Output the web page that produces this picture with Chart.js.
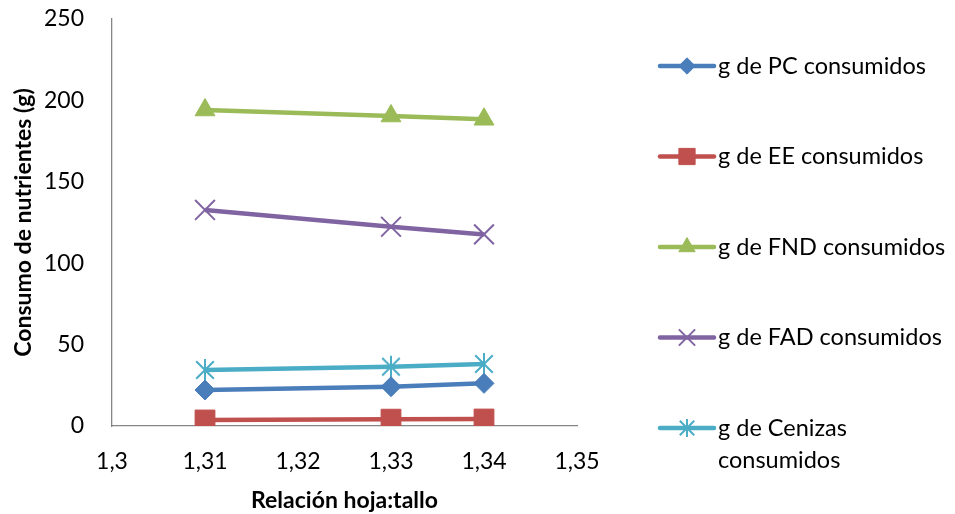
<!DOCTYPE html>
<html>
<head>
<meta charset="utf-8">
<script src="https://cdn.jsdelivr.net/npm/chart.js@4.4.1/dist/chart.umd.min.js"></script>
<style>
  html, body { margin: 0; padding: 0; background: #fff; }
  #wrap { width: 955px; height: 514px; }
</style>
</head>
<body>
<div id="wrap"><canvas id="chart" width="955" height="514"></canvas></div>
<script>
// relacion hoja:tallo
const ratios = [1.31, 1.33, 1.34];

const seriesNames = [
    'g de PC consumidos',
    'g de EE consumidos',
    'g de FND consumidos',
    'g de FAD consumidos',
    'g de Cenizas consumidos'
];
const pcData = [22.1, 24.1, 26.2];
const eeData = [3.7, 4.2, 4.3];
const fndData = [194.1, 190.4, 188.4];
const fadData = [132.7, 122.4, 117.7];
const cenizasData = [34.4, 36.4, 38.1];

const xTicks = [1.3, 1.31, 1.32, 1.33, 1.34, 1.35];
const yTicks = [0, 50, 100, 150, 200, 250];

const FONT = 'Lato, "Noto Sans", sans-serif';

// excel style asterisk: one vertical bar and an X
function asterisk(color, size) {
    const c = document.createElement('canvas');
    c.width = size; c.height = size;
    const g = c.getContext('2d');
    const m = size / 2, r = size / 2 - 1;
    g.strokeStyle = color;
    g.lineWidth = 2;
    g.beginPath();
    g.moveTo(m, m - r); g.lineTo(m, m + r);
    const d = r * 0.8;
    g.moveTo(m - d, m - d); g.lineTo(m + d, m + d);
    g.moveTo(m + d, m - d); g.lineTo(m - d, m + d);
    g.stroke();
    return c;
}

function makeSet(label, values, color, style, radius, bw) {
    return {
        label: label,
        data: values.map((v, i) => ({ x: ratios[i], y: v })),
        borderColor: color,
        backgroundColor: color,
        borderWidth: 4.5,
        pointStyle: style,
        pointRadius: radius,
        pointHoverRadius: radius,
        pointBorderWidth: bw,
        pointBackgroundColor: color,
        pointBorderColor: color,
        tension: 0
    };
}

const datasets = [
    makeSet(seriesNames[0], pcData, '#4a7ebb', 'rectRot', 10, 1),
    makeSet(seriesNames[1], eeData, '#c0504d', 'rect', 14, 1),
    makeSet(seriesNames[2], fndData, '#9bbb59', 'triangle', 11.5, 1),
    makeSet(seriesNames[3], fadData, '#8064a2', 'crossRot', 14, 2),
    makeSet(seriesNames[4], cenizasData, '#4bacc6', asterisk('#4bacc6', 24), 11, 2)
];
const legendStar = asterisk('#4bacc6', 20);

// legend drawn by hand: line sample + marker, and wrapped text
const sideLegend = {
    id: 'sideLegend',
    afterDraw(chart) {
        const ctx = chart.ctx;
        const x0 = 660, x1 = 714, tx = 718;
        const top = 66, step = 90.5;
        ctx.save();
        ctx.font = '23.5px ' + FONT;
        ctx.textBaseline = 'middle';
        ctx.textAlign = 'left';
        chart.data.datasets.forEach((ds, i) => {
            const y = top + i * step;
            ctx.strokeStyle = ds.borderColor;
            ctx.lineWidth = ds.borderWidth;
            ctx.lineCap = 'round';
            ctx.beginPath();
            ctx.moveTo(x0, y);
            ctx.lineTo(x1, y);
            ctx.stroke();
            ctx.fillStyle = ds.borderColor;
            ctx.lineWidth = ds.pointBorderWidth;
            ctx.lineCap = 'butt';
            const ps = typeof ds.pointStyle === 'string' ? ds.pointStyle : legendStar;
            Chart.helpers.drawPoint(ctx, {
                pointStyle: ps,
                radius: ds.pointRadius * 0.82,
                rotation: 0,
                borderWidth: ds.pointBorderWidth
            }, (x0 + x1) / 2, y);
            ctx.fillStyle = '#000';
            // word wrap
            const words = ds.label.split(' ');
            const maxW = chart.width - tx - 2;
            let lines = [], cur = '';
            words.forEach(w => {
                const t = cur ? cur + ' ' + w : w;
                if (ctx.measureText(t).width > maxW && cur) { lines.push(cur); cur = w; }
                else cur = t;
            });
            lines.push(cur);
            lines.forEach((ln, k) => ctx.fillText(ln, tx, y + k * 32));
        });
        ctx.restore();
    }
};

const fmt = v => Number(v.toFixed(2)).toString().replace('.', ',');

const config = {
    type: 'line',
    data: { datasets: datasets },
    options: {
        responsive: false,
        animation: false,
        layout: { padding: { top: 19, right: 378, left: 0, bottom: 0 } },
        plugins: {
            legend: { display: false },
            tooltip: { enabled: false }
        },
        scales: {
            x: {
                type: 'linear',
                min: 1.3,
                max: 1.35,
                afterBuildTicks: axis => { axis.ticks = xTicks.map(v => ({ value: v })); },
                afterFit: axis => { axis.height = 88; },
                grid: { display: false, drawTicks: false },
                border: { display: true, color: '#868686', width: 1.3 },
                ticks: {
                    padding: 22,
                    color: '#000',
                    font: { family: FONT, size: 23 },
                    callback: v => fmt(v),
                    maxRotation: 0
                },
                title: {
                    display: true,
                    text: 'Relación hoja:tallo',
                    color: '#000',
                    font: { family: FONT, size: 23, weight: 'bold' },
                    padding: { top: 6, bottom: 0 }
                }
            },
            y: {
                min: 0,
                max: 250,
                afterBuildTicks: axis => { axis.ticks = yTicks.map(v => ({ value: v })); },
                afterFit: axis => {
                    axis.width = 112;
                    axis.paddingTop = 4;
                    axis.paddingBottom = 4;
                },
                grid: { display: false, drawTicks: false },
                border: { display: true, color: '#868686', width: 1.3 },
                ticks: {
                    padding: 28,
                    color: '#000',
                    font: { family: FONT, size: 23 },
                    callback: v => fmt(v)
                },
                title: {
                    display: true,
                    text: 'Consumo de nutrientes (g)',
                    color: '#000',
                    font: { family: FONT, size: 23, weight: 'bold' },
                    padding: { top: 10, bottom: 0 }
                }
            }
        }
    },
    plugins: [sideLegend]
};

let ctx = document.getElementById('chart').getContext('2d');
new Chart(ctx, config);
</script>
</body>
</html>
